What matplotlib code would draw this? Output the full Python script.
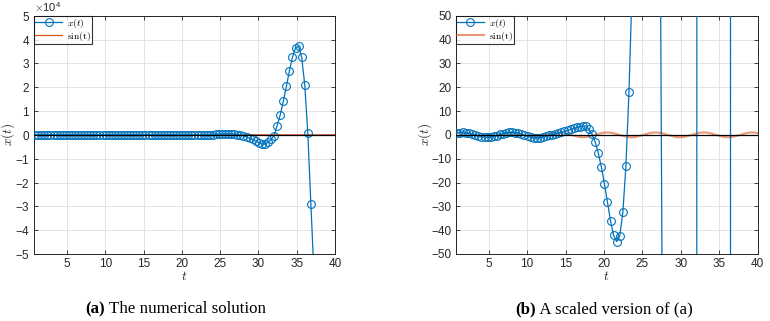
import matplotlib
matplotlib.use("Agg")
import matplotlib.pyplot as plt
import numpy as np
from matplotlib.ticker import ScalarFormatter

plt.rcParams['font.family'] = ['Liberation Sans', 'DejaVu Sans']
plt.rcParams['mathtext.fontset'] = 'cm'

# ------------------ data ------------------
t0, dt = 0.85, 0.4
x_vals = [
    0.75, 0.95, 1.0, 0.9, 0.65, 0.3, -0.1, -0.5, -0.8, -1.0,
    -1.05, -0.9, -0.65, -0.3, 0.15, 0.55, 0.85, 1.05, 1.1, 0.95,
    0.65, 0.25, -0.2, -0.65, -1.0, -1.25, -1.35, -1.25, -0.95, -0.55,
    -0.2, 0.1, 0.4, 0.75, 1.05, 1.45, 1.9, 2.3, 2.7, 3.1,
    3.45, 3.7, 3.75, 2.3, 0.2, -3.0, -7.6, -13.4, -20.5, -28.3,
    -36.2, -42.2, -44.8, -42.4, -32.5, -13.1, 18.1, 61, 140, 230,
    310, 370, 400, 410, 380, 290, 130, -120, -460, -880,
    -1380, -1950, -2600, -3300, -3850, -3900, -3200, -1900, -300, 3900,
    8400, 14100, 20300, 26900, 32600, 36600, 37100, 32600, 21000, 800,
    -29100, -58000,
]
t = t0 + dt * np.arange(len(x_vals))
x = np.array(x_vals)
t_sin = np.arange(t0, 40.01, 0.1)

xticks = [5, 10, 15, 20, 25, 30, 35, 40]
captions = [("(a)", " The numerical solution"), ("(b)", " A scaled version of (a)")]

blue = '#0072BD'
orange = '#D95319'
axcol = '#262626'

fig = plt.figure(figsize=(7.7, 3.21), dpi=100)
W, H = 770, 321
axL = fig.add_axes([34 / W, 1 - 254 / H, 301 / W, 238.3 / H])
axR = fig.add_axes([455.7 / W, 1 - 254 / H, 302 / W, 238.3 / H])

for i, ax in enumerate([axL, axR]):
    ax.plot(t, x, '-o', color=blue, lw=0.9, ms=5.6, mfc='none', mew=0.8,
            label='$x(t)$', zorder=3)
    if i == 0:
        ax.plot(t_sin, np.sin(t_sin), color=orange, lw=0.9, label=r'$\mathrm{sin(t)}$', zorder=2)
    else:
        ax.plot(t_sin, np.sin(t_sin), color=orange, lw=1.5, alpha=0.6,
                label=r'$\mathrm{sin(t)}$', zorder=2)
    ax.axhline(0, color='k', lw=0.9, zorder=4)
    ax.set_xlim(0.7, 40)
    ax.set_xticks(xticks)
    ax.grid(True, color='#E3E3E3', lw=0.7)
    ax.set_axisbelow(True)
    ax.tick_params(direction='in', length=3, width=0.6, top=True, right=True,
                   labelsize=8.5, colors=axcol, pad=3)
    for s in ax.spines.values():
        s.set_color(axcol)
        s.set_linewidth(0.7)
    ax.set_xlabel('$t$', fontsize=9.5, color=axcol, labelpad=0)
    ax.set_ylabel('$x(t)$', fontsize=9.5, color=axcol)
    leg = ax.legend(loc='upper left', fontsize=7, frameon=True, fancybox=False,
                    borderaxespad=0, handlelength=2.8, borderpad=0.1,
                    labelspacing=0.0, handletextpad=0.5)
    leg.get_frame().set_edgecolor('k')
    leg.get_frame().set_linewidth(0.8)
    leg.set_zorder(10)

axL.yaxis.set_label_coords(-0.056, 0.5)
axR.yaxis.set_label_coords(-0.072, 0.5)

axL.set_ylim(-5e4, 5e4)
axL.set_yticks(np.arange(-5e4, 5.1e4, 1e4))
fmt = ScalarFormatter(useMathText=True)
fmt.set_powerlimits((0, 0))
axL.yaxis.set_major_formatter(fmt)
axL.yaxis.get_offset_text().set_fontsize(8)
axL.yaxis.get_offset_text().set_color(axcol)

axR.set_ylim(-50, 50)
axR.set_yticks(np.arange(-50, 51, 10))

# captions
fig.canvas.draw()
r = fig.canvas.get_renderer()
for (bold, rest), xs in zip(captions, [85, 515]):
    tb = fig.text(xs / W, 1 - 313 / H, bold, family='Liberation Serif',
                  weight='bold', fontsize=12.2, va='baseline')
    bb = tb.get_window_extent(renderer=r)
    fig.text(bb.x1 / W, 1 - 313 / H, rest, family='Liberation Serif',
             fontsize=12.2, va='baseline')

plt.savefig('out.png', dpi=100)
